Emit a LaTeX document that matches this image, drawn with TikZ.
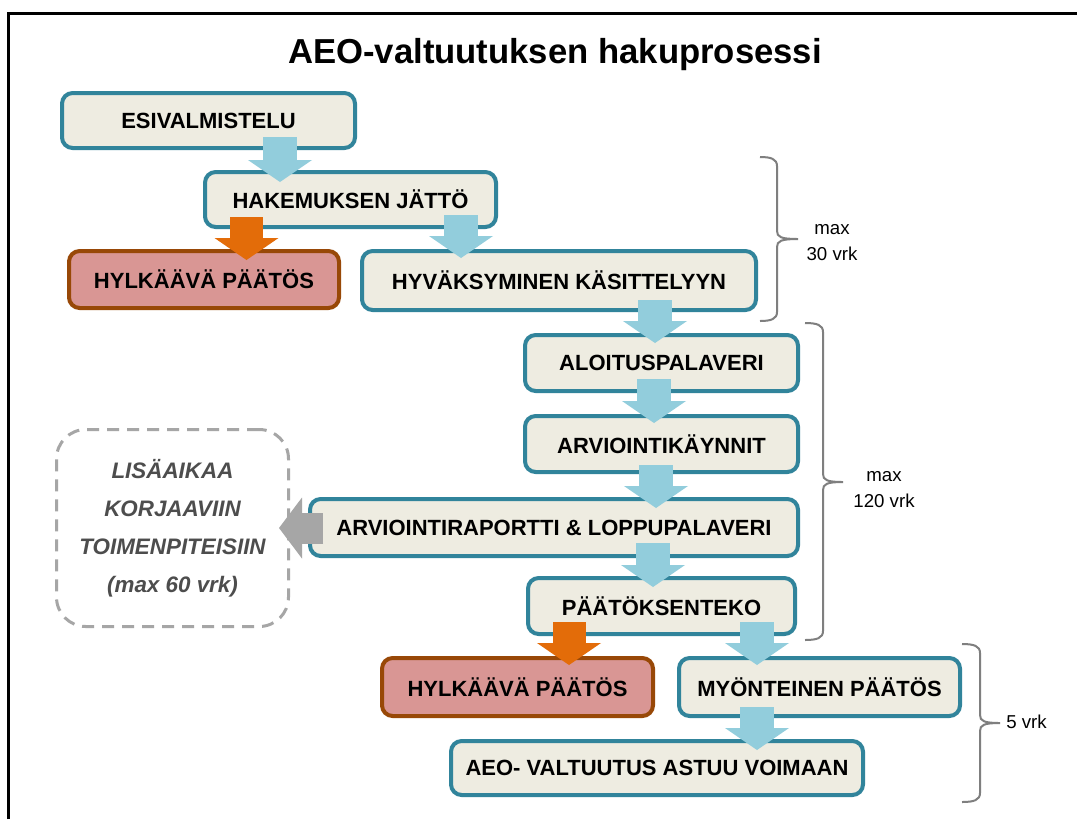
\documentclass[tikz,border=0pt]{standalone}
\usepackage{fontspec}
\setmainfont{Liberation Sans}
\usetikzlibrary{arrows.meta}
\definecolor{boxfill}{HTML}{EEECE1}
\definecolor{boxline}{HTML}{31849B}
\definecolor{redfill}{HTML}{D99694}
\definecolor{redline}{HTML}{984807}
\definecolor{arrblue}{HTML}{92CDDC}
\definecolor{arrorange}{HTML}{E36C09}
\definecolor{arrgray}{HTML}{A6A6A6}
\definecolor{bracegray}{HTML}{7F7F7F}
\definecolor{notegray}{HTML}{4D4D4D}
\newcommand\mybrace[6]{%
\draw[bracestyle] (#1,#4) .. controls ({#2-6},#4) and (#2,{#4+2}) .. (#2,{#4+9})
  -- (#2,{#5-8}) .. controls (#2,{#5-2}) and ({#2+4},#5) .. (#3,#5)
  .. controls ({#2+4},#5) and (#2,{#5+2}) .. (#2,{#5+8})
  -- (#2,{#6-9}) .. controls (#2,{#6-2}) and ({#2-6},#6) .. (#1,#6);}
\begin{document}
\begin{tikzpicture}[x=0.75pt,y=-0.75pt,
  wh/.style 2 args={minimum width=#1*0.75pt, minimum height=#2*0.75pt},
  stepbox/.style={draw=boxline, fill=boxfill, line width=3pt, rounded corners=8pt,
    font=\fontsize{16.5}{19}\selectfont\bfseries, inner sep=0pt},
  rejectbox/.style={stepbox, draw=redline, fill=redfill},
  notebox/.style={draw=arrgray, line width=2.25pt, dash pattern=on 9pt off 6pt,
    rounded corners=22pt, align=center, text=notegray,
    font=\fontsize{16.8}{28.5}\selectfont\bfseries\itshape, inner sep=0pt},
  bluearrow/.style={draw=arrblue, line width=25.5pt,
    -{Triangle[width=48pt,length=16.5pt,line width=0pt,fill=arrblue]}},
  orangearrow/.style={draw=arrorange, line width=24.75pt,
    -{Triangle[width=48pt,length=16.5pt,line width=0pt,fill=arrorange]}},
  grayarrow/.style={draw=arrgray, line width=23.25pt,
    -{Triangle[width=45.75pt,length=17.25pt,line width=0pt,fill=arrgray]}},
  bracestyle/.style={draw=bracegray, line width=1.5pt},
  note/.style={align=center, font=\fontsize{14}{19.5}\selectfont, inner sep=0pt}]
\useasboundingbox (0,0) rectangle (1077,819);
\fill[white] (0,0) rectangle (1077,819);
\draw[line width=2.25pt] (8,819) -- (8,13.5) -- (1077,13.5);

\node (title) at (555,55) {\fontsize{26}{30}\selectfont\bfseries AEO-valtuutuksen hakuprosessi};

\node[stepbox, wh={293}{55}] (esi) at (208.5,120.5) {ESIVALMISTELU};
\node[stepbox, wh={291}{55}] (hak) at (350.5,199.5) {HAKEMUKSEN JÄTTÖ};
\node[rejectbox, wh={270}{57}] (hyl1) at (204,279.5) {HYLKÄÄVÄ PÄÄTÖS};
\node[stepbox, wh={394}{59}] (hyv) at (559,280.5) {HYVÄKSYMINEN KÄSITTELYYN};
\node[stepbox, wh={273}{56}] (alo) at (661.5,363) {ALOITUSPALAVERI};
\node[stepbox, wh={273}{56}] (arvk) at (661.5,444) {ARVIOINTIKÄYNNIT};
\node[stepbox, wh={488}{57}] (arvr) at (554,527.5) {ARVIOINTIRAPORTTI \& LOPPUPALAVERI};
\node[stepbox, wh={267}{56}] (paat) at (661.5,606) {PÄÄTÖKSENTEKO};
\node[rejectbox, wh={271}{58}] (hyl2) at (517.5,687) {HYLKÄÄVÄ PÄÄTÖS};
\node[stepbox, wh={281}{58}] (myo) at (819.5,687) {MYÖNTEINEN PÄÄTÖS};
\node[stepbox, wh={412}{54}] (aeo) at (657,768) {AEO- VALTUUTUS ASTUU VOIMAAN};
\node[notebox, wh={232}{197}] (lisa) at (172.5,528) {LISÄAIKAA\\KORJAAVIIN\\TOIMENPITEISIIN\\(max 60 vrk)};

\draw[bluearrow] (280,137) -- (280,182);
\draw[orangearrow] (246.5,217) -- (246.5,260);
\draw[bluearrow] (461,215) -- (461,258);
\draw[bluearrow] (655,300) -- (655,343);
\draw[bluearrow] (654,379) -- (654,423);
\draw[bluearrow] (656,465) -- (656,508);
\draw[bluearrow] (653,543) -- (653,587);
\draw[orangearrow] (569,622) -- (569,665);
\draw[bluearrow] (757,622) -- (757,665);
\draw[bluearrow] (757,707) -- (757,750);
\draw[grayarrow] (323,528) -- (279,528);

\mybrace{760}{777}{798}{157}{239}{321}
\mybrace{805}{823}{843}{323}{482}{640}
\mybrace{962}{980}{1000}{644}{723}{802}

\node[note] (l30) at (832,243) {max\\30 vrk};
\node[note] (l120) at (884,490) {max\\120 vrk};
\node[note, anchor=west] (l5) at (1006,722) {5 vrk};
\end{tikzpicture}
\end{document}
